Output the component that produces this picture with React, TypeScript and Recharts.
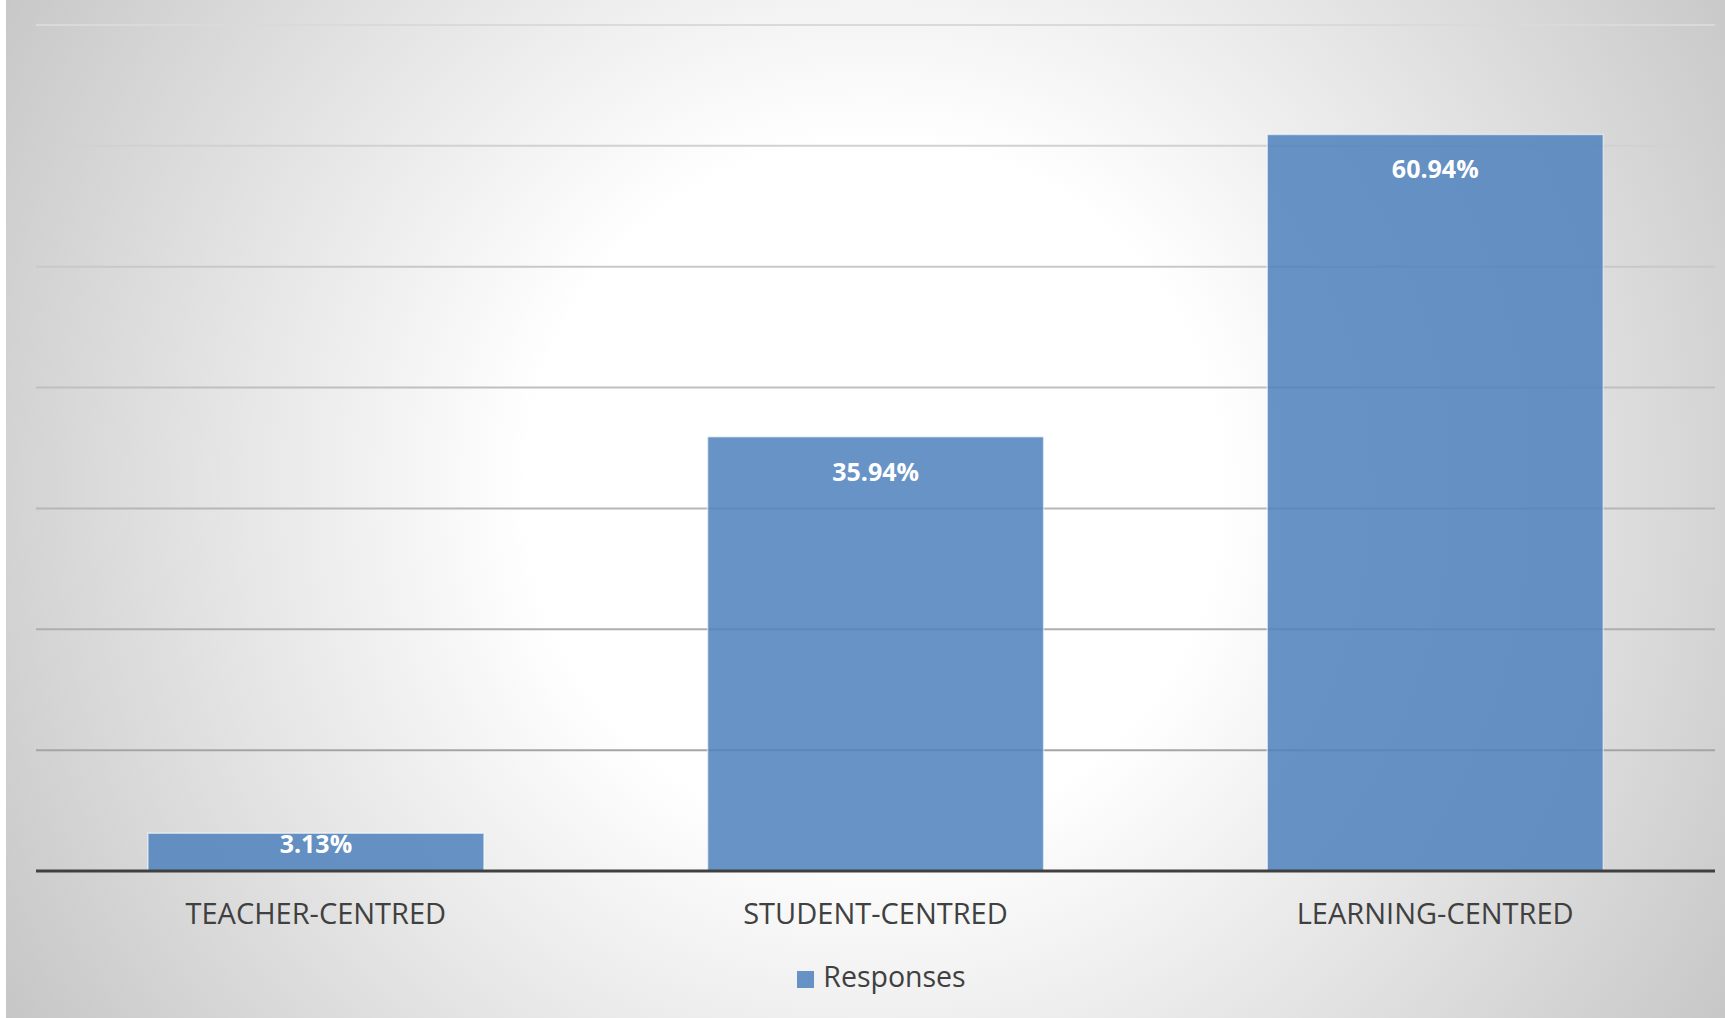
import React from "react";
import { BarChart, Bar, XAxis, YAxis, CartesianGrid, Legend, LabelList } from "recharts";

const categories = ["TEACHER-CENTRED", "STUDENT-CENTRED", "LEARNING-CENTRED"];
const responses = [3.13, 35.94, 60.94];
const yTicks = [0, 10, 20, 30, 40, 50, 60, 70];
const seriesName = "Responses";

const data = categories.map((c, i) => ({ category: c, value: responses[i] }));

const W = 1725;
const H = 1018;
const FONT = "'Open Sans', 'DejaVu Sans', sans-serif";

const renderLabel = (props: any) => {
  const { x, y, width, height, value } = props;
  const h = Number(height);
  const cy = Number(y) + (h > 80 ? 34 : h * 0.25);
  return (
    <text
      x={Number(x) + Number(width) / 2}
      y={cy}
      textAnchor="middle"
      dominantBaseline="central"
      fill="#ffffff"
      fontFamily={FONT}
      fontWeight={700}
      fontSize={25}
    >
      {`${Number(value).toFixed(2)}%`}
    </text>
  );
};

export default function App() {
  return (
    <div style={{ position: "absolute", left: 0, top: 0, width: W, height: H, background: "#ffffff" }}>
      <div
        style={{
          position: "absolute",
          left: 6,
          top: 0,
          width: W - 6,
          height: H,
          background: "radial-gradient(circle farthest-corner at 50.5% 48%, #ffffff 0%, #ffffff 34%, #c6c6c6 100%)",
        }}
      />
      <div style={{ position: "absolute", left: 0, top: 0 }}>
        <BarChart
          width={W}
          height={H}
          data={data}
          margin={{ top: 25, right: 10, left: 36, bottom: 87 }}
          barCategoryGap="20%"
        >
          <defs>
            <linearGradient id="gridGrad" gradientUnits="userSpaceOnUse" x1="0" y1="25" x2="0" y2="871">
              <stop offset="0%" stopColor="#dadada" />
              <stop offset="100%" stopColor="#9c9c9c" />
            </linearGradient>
          </defs>
          <CartesianGrid vertical={false} stroke="url(#gridGrad)" strokeWidth={2} />
          <YAxis hide domain={[0, 70]} ticks={yTicks} />
          <XAxis
            dataKey="category"
            height={60}
            axisLine={{ stroke: "#404040", strokeWidth: 3 }}
            tickLine={false}
            tickSize={0}
            tickMargin={32}
            tick={{ fill: "#404040", fontSize: 29, fontFamily: FONT }}
          />
          <Legend
            verticalAlign="middle"
            align="center"
            iconType="square"
            iconSize={17}
            wrapperStyle={{ top: 957, left: 24, width: W, fontFamily: FONT, fontSize: 28.5 }}
            formatter={(v: any) => <span style={{ color: "#404040", marginLeft: 5 }}>{v}</span>}
          />
          <Bar
            dataKey="value"
            name={seriesName}
            fill="rgba(79,129,189,0.86)"
            stroke="rgba(255,255,255,0.55)"
            strokeWidth={1.5}
            isAnimationActive={false}
          >
            <LabelList dataKey="value" content={renderLabel} />
          </Bar>
        </BarChart>
      </div>
    </div>
  );
}
